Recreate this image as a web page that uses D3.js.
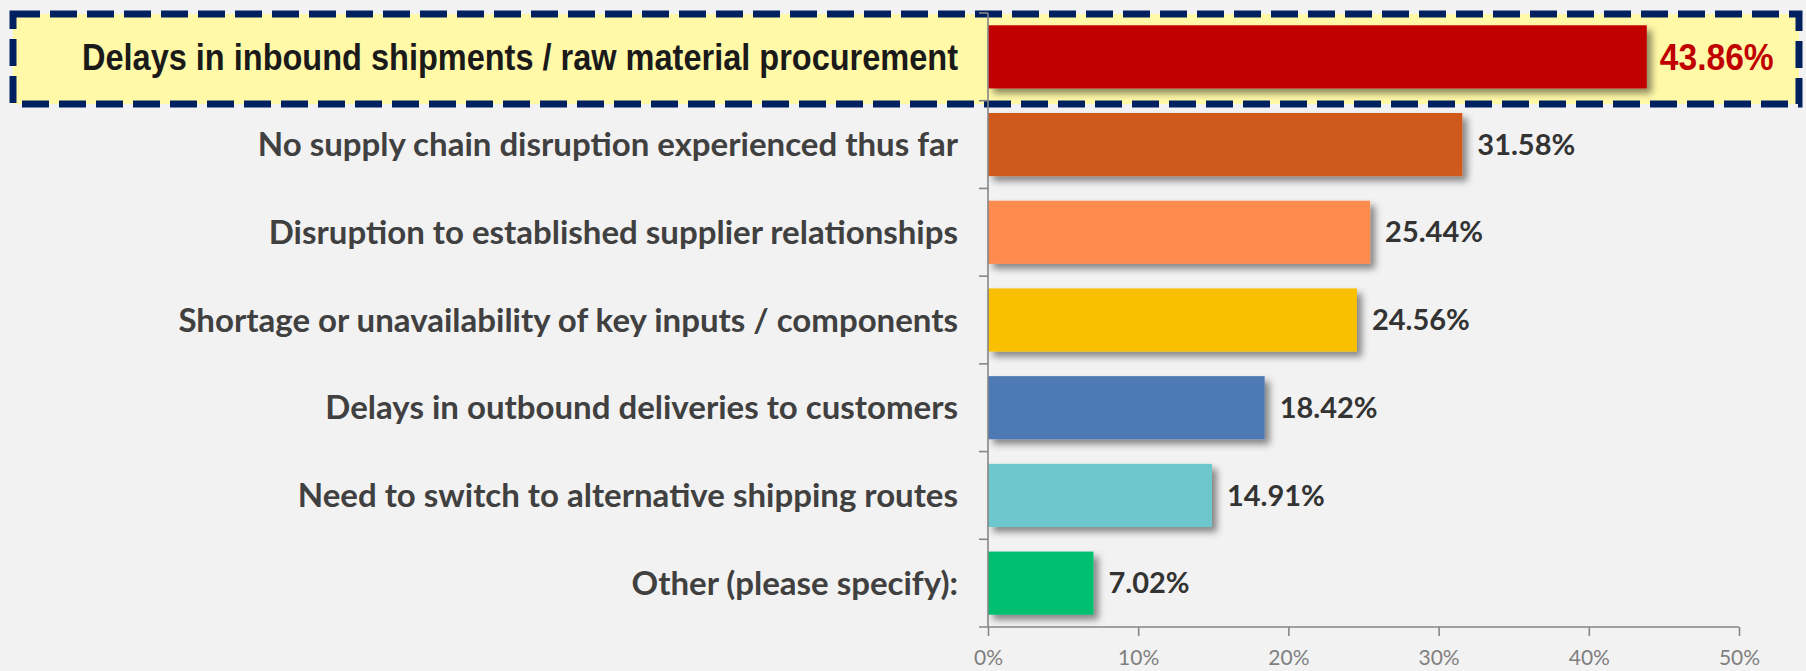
<!DOCTYPE html>
<html><head><meta charset="utf-8">
<script src="https://cdn.jsdelivr.net/npm/d3@7"></script>
<style>
html,body{margin:0;padding:0;background:#F2F2F2;}
svg{display:block;}
</style></head>
<body>
<svg id="chart" width="1806" height="671"></svg>
<script>
const categories = [
  "Delays in inbound shipments / raw material procurement",
  "No supply chain disruption experienced thus far",
  "Disruption to established supplier relationships",
  "Shortage or unavailability of key inputs / components",
  "Delays in outbound deliveries to customers",
  "Need to switch to alternative shipping routes",
  "Other (please specify):"
];
const values = [43.86, 31.58, 25.44, 24.56, 18.42, 14.91, 7.02];
const barColors = ["#C00000", "#D05A1B", "#FF8B50", "#F8C000", "#4E7AB5", "#6CC8CC", "#00BF70"];
const xTicks = [0, 10, 20, 30, 40, 50];
const highlightIndex = 0;

const svg = d3.select("#chart");
const W = 1806, H = 671;
svg.append("rect").attr("width", W).attr("height", H).attr("fill", "#F2F2F2");

const defs = svg.append("defs");
const f = defs.append("filter").attr("id", "shadow").attr("x", "-10%").attr("y", "-30%").attr("width", "130%").attr("height", "180%");
f.append("feDropShadow").attr("dx", 5).attr("dy", 5).attr("stdDeviation", 3.5)
  .attr("flood-color", "#000").attr("flood-opacity", 0.45);

const x = d3.scaleLinear().domain([0, 50]).range([988, 1739]);
const y = d3.scaleBand().domain(categories).range([13, 627]).paddingInner(0.28).paddingOuter(0.14);

// highlight box
svg.append("rect")
  .attr("x", 13).attr("y", 14).attr("width", 1786).attr("height", 90)
  .attr("fill", "#FFF9A8")
  .attr("stroke", "#002060").attr("stroke-width", 7)
  .attr("stroke-dasharray", "27,10");

// bars
svg.append("g").selectAll("rect").data(categories).join("rect")
  .attr("x", x(0))
  .attr("y", d => y(d))
  .attr("width", (d, i) => x(values[i]) - x(0))
  .attr("height", y.bandwidth())
  .attr("fill", (d, i) => barColors[i])
  .attr("filter", "url(#shadow)");

// x axis
const xAxis = d3.axisBottom(x).tickValues(xTicks).tickFormat(d => d + "%").tickSize(9).tickSizeOuter(0);
const gx = svg.append("g").attr("transform", "translate(0,627)").call(xAxis);
gx.select(".domain").attr("stroke", "#868686").attr("stroke-width", 1.6).attr("d", `M979,0H${x(50)}`);
gx.selectAll(".tick line").attr("stroke", "#868686").attr("stroke-width", 1.6);
gx.selectAll(".tick text").attr("fill", "#7F7F7F").attr("font-family", "Lato, 'Open Sans', sans-serif")
  .attr("font-size", 21).attr("y", 38).attr("dy", 0);

// y axis line + ticks at band boundaries
const step = y.step();
const r0 = y.range()[0];
const gy = svg.append("g");
gy.append("line").attr("x1", x(0)).attr("x2", x(0)).attr("y1", r0).attr("y2", 627)
  .attr("stroke", "#868686").attr("stroke-width", 1.6);
gy.selectAll("line.tk").data(d3.range(categories.length)).join("line").attr("class", "tk")
  .attr("x1", x(0) - 9).attr("x2", x(0))
  .attr("y1", i => r0 + i * step).attr("y2", i => r0 + i * step)
  .attr("stroke", "#868686").attr("stroke-width", 1.6);

const narrowFont = "'Liberation Sans', Arial, sans-serif";
const mainFont = "Lato, 'Open Sans', sans-serif";

// category labels
const catText = svg.append("g").selectAll("text").data(categories).join("text")
  .attr("x", 958)
  .attr("y", d => y(d) + y.bandwidth() / 2)
  .attr("dy", "0.35em")
  .attr("text-anchor", "end")
  .attr("font-family", (d, i) => i === highlightIndex ? narrowFont : mainFont)
  .attr("font-weight", "bold")
  .attr("font-size", (d, i) => i === highlightIndex ? 37 : 33)
  .attr("fill", (d, i) => i === highlightIndex ? "#1A1A1A" : "#404040")
  .text(d => d);
catText.filter((d, i) => i === highlightIndex)
  .attr("textLength", 876).attr("lengthAdjust", "spacingAndGlyphs");

// value labels
const valText = svg.append("g").selectAll("text").data(categories).join("text")
  .attr("x", (d, i) => x(values[i]) + (i === highlightIndex ? 13 : 15))
  .attr("y", d => y(d) + y.bandwidth() / 2)
  .attr("dy", "0.35em")
  .attr("font-family", (d, i) => i === highlightIndex ? narrowFont : mainFont)
  .attr("font-weight", "bold")
  .attr("font-size", (d, i) => i === highlightIndex ? 37 : 29)
  .attr("fill", (d, i) => i === highlightIndex ? "#C00000" : "#333333")
  .text((d, i) => values[i].toFixed(2) + "%");
valText.filter((d, i) => i === highlightIndex)
  .attr("textLength", 114).attr("lengthAdjust", "spacingAndGlyphs");
</script>
</body></html>
